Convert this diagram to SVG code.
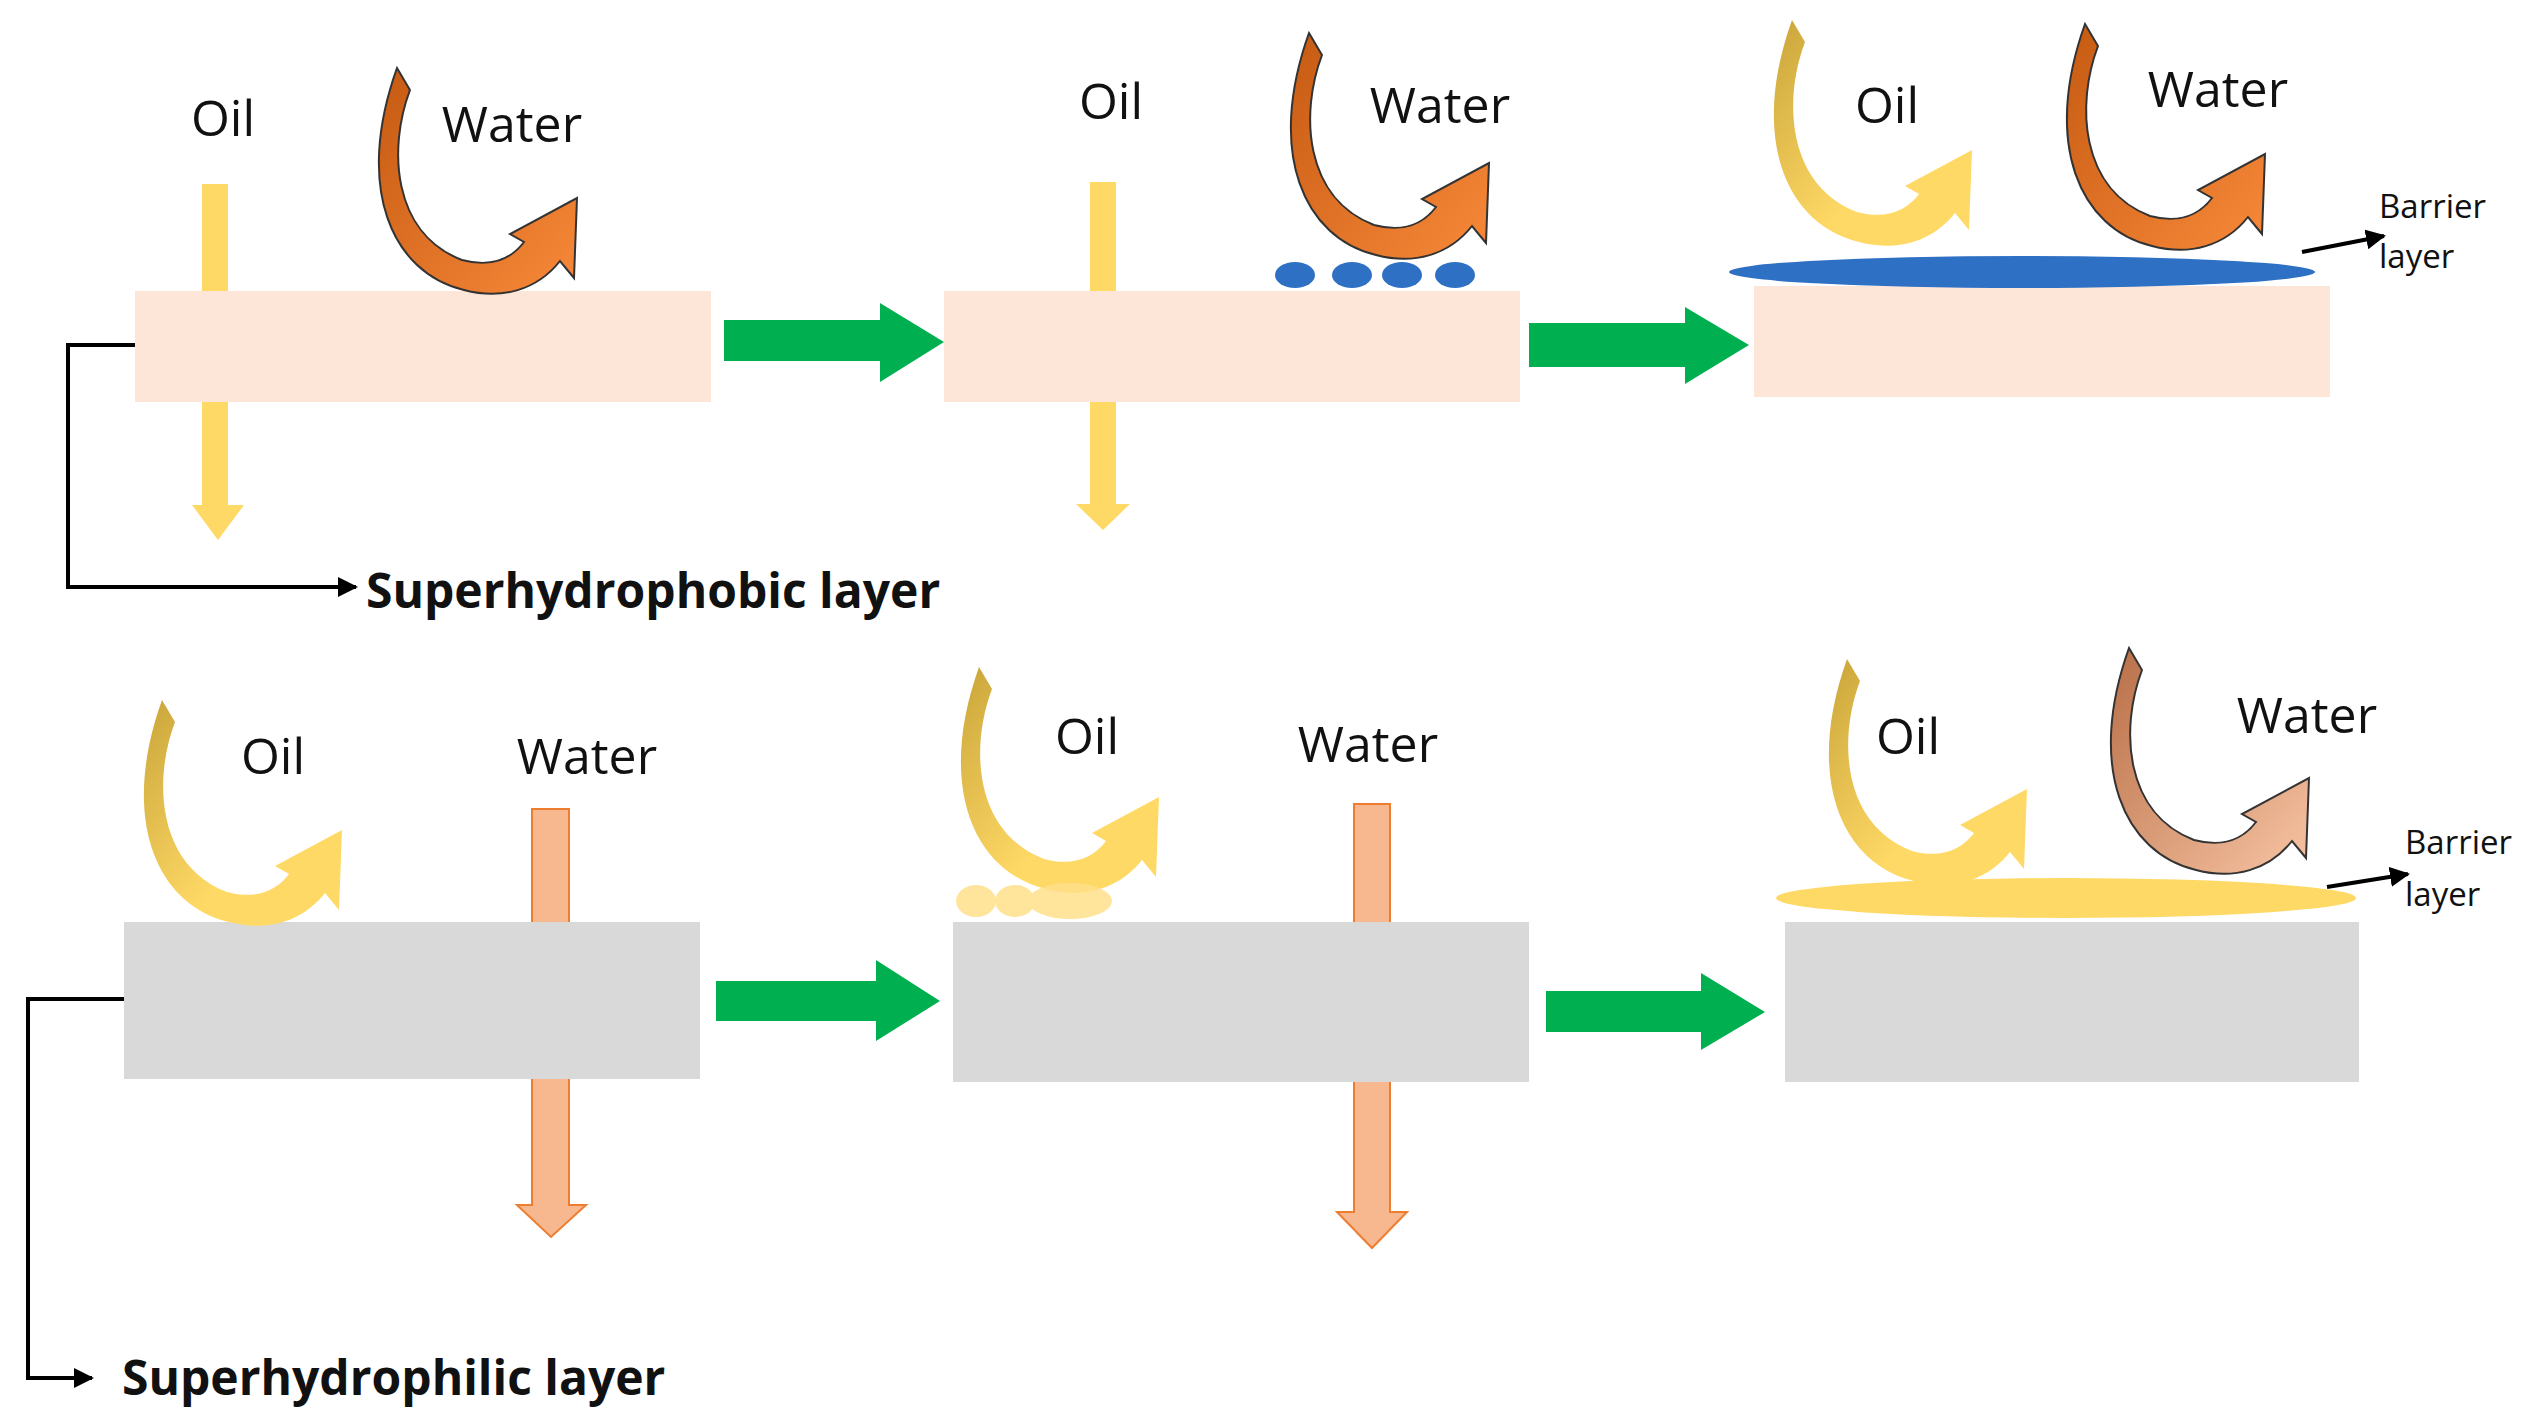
<svg xmlns="http://www.w3.org/2000/svg" width="2538" height="1423" viewBox="0 0 2538 1423">
<defs>
<linearGradient id="gw" x1="0" y1="0" x2="1" y2="1"><stop offset="0" stop-color="#c55a11"/><stop offset="1" stop-color="#f8893a"/></linearGradient>
<linearGradient id="go" x1="0" y1="0" x2="1" y2="1"><stop offset="0" stop-color="#c9a53a"/><stop offset="0.6" stop-color="#ffd966"/><stop offset="1" stop-color="#ffd966"/></linearGradient>
<linearGradient id="gb" x1="0" y1="0" x2="1" y2="1"><stop offset="0" stop-color="#b86f47"/><stop offset="1" stop-color="#f8c4a4"/></linearGradient>
<path id="curve" d="M45,0 L58,22 C36,80 40,165 110,192 C140,200 160,190 172,174 L158,166 L225,130 L222,210 L208,193 C185,222 150,232 112,222 C40,205 2,120 45,0 Z"/>
<marker id="ah" viewBox="0 0 10 10" refX="9" refY="5" markerWidth="5" markerHeight="5" orient="auto"><path d="M0,0 L10,5 L0,10 Z" fill="#000"/></marker>
<style>
.t{font-family:"Open Sans","Liberation Sans",sans-serif;font-size:50px;fill:#111}
.s{font-family:"Open Sans","Liberation Sans",sans-serif;font-size:33px;fill:#111}
.b{font-family:"Open Sans","Liberation Sans",sans-serif;font-size:48px;font-weight:bold;fill:#111}
.pink{fill:#fde5d8}.gray{fill:#d9d9d9}.green{fill:#00b050}
.wc{fill:url(#gw);stroke:#333;stroke-width:2}
.oc{fill:url(#go)}
.bc{fill:url(#gb);stroke:#333;stroke-width:2}
.oy{fill:#ffd966}.pe{fill:#f8b88f;stroke:#ed7d31;stroke-width:2}
.ln{fill:none;stroke:#000;stroke-width:4}
</style>
</defs>
<rect width="2538" height="1423" fill="#fff"/>
<g id="row1">
<polygon class="oy" points="202,184 228,184 228,505 244,505 218,540 192,505 202,505"/>
<polygon class="oy" points="1090,182 1116,182 1116,504 1130,504 1103,530 1076,504 1090,504"/>
<rect id="box1" class="pink" x="135" y="291" width="576" height="111"/>
<rect id="box2" class="pink" x="944" y="291" width="576" height="111"/>
<rect id="box3" class="pink" x="1754" y="286" width="576" height="111"/>
<use href="#curve" class="wc" transform="translate(352,68)"/>
<use href="#curve" class="wc" transform="translate(1264,33)"/>
<use href="#curve" class="wc" transform="translate(2040,24)"/>
<use href="#curve" class="oc" transform="translate(1747,20)"/>
<g fill="#2e70c4"><ellipse cx="1295" cy="275" rx="20" ry="13"/><ellipse cx="1352" cy="275" rx="20" ry="13"/><ellipse cx="1402" cy="275" rx="20" ry="13"/><ellipse cx="1455" cy="275" rx="20" ry="13"/>
<ellipse cx="2022" cy="272" rx="293" ry="16"/></g>
<text class="t" x="223" y="136" text-anchor="middle">Oil</text>
<text class="t" x="512" y="142" text-anchor="middle">Water</text>
<text class="t" x="1111" y="119" text-anchor="middle">Oil</text>
<text class="t" x="1440" y="123" text-anchor="middle">Water</text>
<text class="t" x="1887" y="123" text-anchor="middle">Oil</text>
<text class="t" x="2218" y="107" text-anchor="middle">Water</text>
<text class="s" x="2379" y="218">Barrier</text><text class="s" x="2379" y="268">layer</text>
<text class="b" x="366" y="608">Superhydrophobic layer</text>
</g>
<g id="row2">
<polygon class="pe" points="532,809 569,809 569,1205 586,1205 551,1237 517,1205 532,1205"/>
<polygon class="pe" points="1354,804 1390,804 1390,1212 1407,1212 1372,1248 1337,1212 1354,1212"/>
<rect id="box4" class="gray" x="124" y="922" width="576" height="157"/>
<rect id="box5" class="gray" x="953" y="922" width="576" height="160"/>
<rect id="box6" class="gray" x="1785" y="922" width="574" height="160"/>
<use href="#curve" class="oc" transform="translate(117,700)"/>
<use href="#curve" class="oc" transform="translate(934,667)"/>
<use href="#curve" class="oc" transform="translate(1802,659)"/>
<use href="#curve" class="bc" transform="translate(2084,648)"/>
<g fill="#ffe08a" opacity="0.85"><ellipse cx="976" cy="901" rx="20" ry="16"/><ellipse cx="1015" cy="901" rx="20" ry="16"/><ellipse cx="1070" cy="901" rx="42" ry="18"/></g>
<ellipse cx="2066" cy="898" rx="290" ry="20" fill="#ffd966"/>
<text class="t" x="273" y="774" text-anchor="middle">Oil</text>
<text class="t" x="587" y="774" text-anchor="middle">Water</text>
<text class="t" x="1087" y="754" text-anchor="middle">Oil</text>
<text class="t" x="1368" y="762" text-anchor="middle">Water</text>
<text class="t" x="1908" y="754" text-anchor="middle">Oil</text>
<text class="t" x="2307" y="733" text-anchor="middle">Water</text>
<text class="s" x="2405" y="854">Barrier</text><text class="s" x="2405" y="906">layer</text>
<text class="b" x="122" y="1395">Superhydrophilic layer</text>
</g>
<g id="connectors">
<polygon class="green" points="724,320 880,320 880,303 944,342 880,382 880,361 724,361"/>
<polygon class="green" points="1529,323 1685,323 1685,307 1749,345 1685,384 1685,367 1529,367"/>
<polygon class="green" points="716,981 876,981 876,960 940,1001 876,1041 876,1021 716,1021"/>
<polygon class="green" points="1546,991 1701,991 1701,973 1765,1012 1701,1050 1701,1032 1546,1032"/>
<polyline class="ln" points="135,345 68,345 68,587 356,587" marker-end="url(#ah)"/>
<polyline class="ln" points="124,999 28,999 28,1378 92,1378" marker-end="url(#ah)"/>
<line class="ln" x1="2302" y1="252" x2="2384" y2="236" marker-end="url(#ah)"/>
<line class="ln" x1="2327" y1="887" x2="2408" y2="874" marker-end="url(#ah)"/>
</g>
</svg>
